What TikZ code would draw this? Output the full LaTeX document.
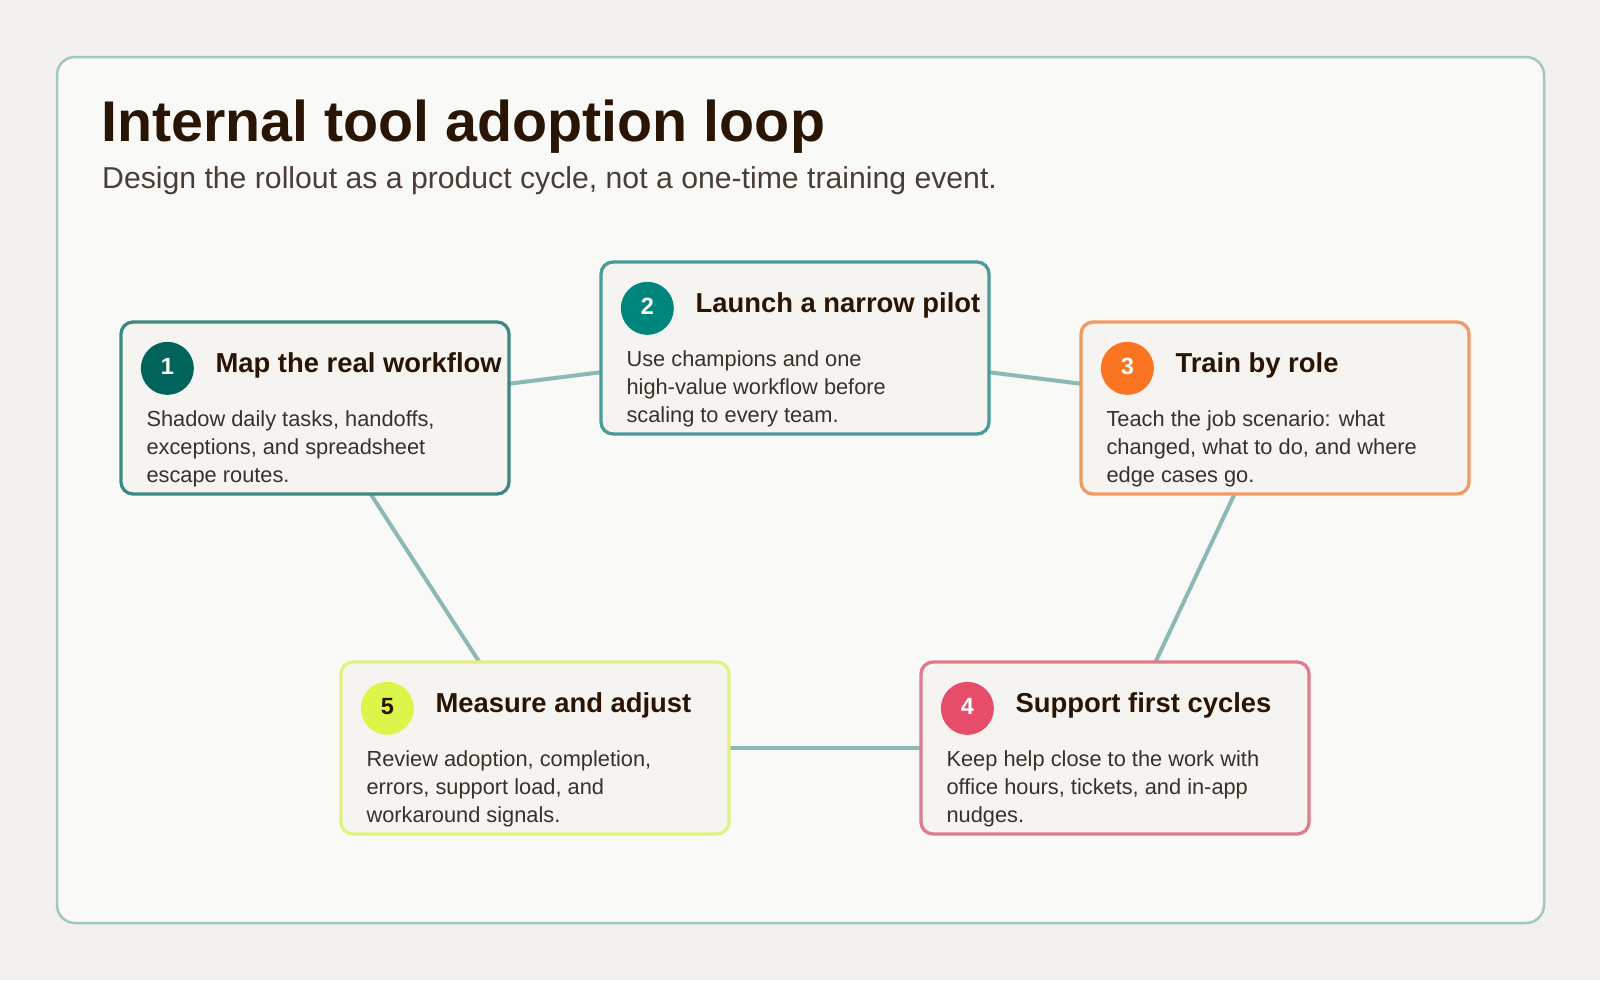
\documentclass[tikz,border=0pt]{standalone}
\usepackage{fontspec}
\setmainfont{Liberation Sans}
\usetikzlibrary{calc}
\definecolor{bgc}{HTML}{F2F1ED}
\definecolor{panelfill}{HTML}{F9F9F7}
\definecolor{panelline}{HTML}{A2C8C4}
\definecolor{boxfill}{HTML}{F6F4F0}
\definecolor{line1}{HTML}{3E8782}
\definecolor{dot1}{HTML}{00645C}
\definecolor{line2}{HTML}{4A9C98}
\definecolor{dot2}{HTML}{00877D}
\definecolor{line3}{HTML}{F29A62}
\definecolor{dot3}{HTML}{FA7421}
\definecolor{line4}{HTML}{E07A8D}
\definecolor{dot4}{HTML}{E54D6B}
\definecolor{line5}{HTML}{E3F27E}
\definecolor{dot5}{HTML}{DBF54B}
\definecolor{conn}{HTML}{8CB9B6}
\definecolor{titlec}{HTML}{2A1505}
\definecolor{subc}{HTML}{4A3E34}
\definecolor{bodyc}{HTML}{3A302A}
\pgfdeclarelayer{bg}
\pgfdeclarelayer{links}
\pgfsetlayers{bg,links,main}
\newcommand{\badgenum}[1]{\raisebox{3.5pt}{#1}}
\tikzset{
  stepbox/.style={rectangle, rounded corners=12pt, line width=3.3pt, fill=boxfill,
    minimum width=388pt, minimum height=172pt, inner sep=0pt},
  badge/.style={circle, minimum size=53pt, inner sep=0pt, text=white,
    font=\fontsize{23.5}{23.5}\selectfont\bfseries},
  steptitle/.style={anchor=base west, inner sep=0pt, text=titlec,
    font=\fontsize{27.4}{30}\selectfont\bfseries},
  stepbody/.style={anchor=base west, inner sep=0pt, text=bodyc,
    font=\fontsize{21.8}{28}\selectfont},
  link/.style={draw=conn, line width=4pt}
}
\begin{document}
\begin{tikzpicture}[x=1pt,y=-1pt]
\begin{pgfonlayer}{bg}
\fill[bgc] (0,0) rectangle (1600,980);
\draw[panelline, fill=panelfill, line width=2.5pt, rounded corners=18pt] (57,57) rectangle (1544,923);
\end{pgfonlayer}
\useasboundingbox (0,0) rectangle (1600,980);

\node[anchor=base west, inner sep=0pt, text=titlec, font=\fontsize{57.4}{60}\selectfont\bfseries] (title) at (101,141) {Internal tool adoption loop};
\node[anchor=base west, inner sep=0pt, text=subc, font=\fontsize{30.2}{33}\selectfont] (subtitle) at (102,188) {Design the rollout as a product cycle, not a one-time training event.};

% boxes
\node[stepbox, draw=line1] (b1) at (315,408) {};
\node[stepbox, draw=line2] (b2) at (795,348) {};
\node[stepbox, draw=line3] (b3) at (1275,408) {};
\node[stepbox, draw=line4] (b4) at (1115,748) {};
\node[stepbox, draw=line5] (b5) at (535,748) {};

% box 1
\node[badge, fill=dot1] (n1) at ($(b1.north west)+(48,48)$) {\badgenum{1}};
\node[steptitle] (t1) at ($(b1.north west)+(96,52.5)$) {Map the real workflow};
\node[stepbody] (d1a) at ($(b1.north west)+(27,106.5)$) {Shadow daily tasks, handoffs,};
\node[stepbody] (d1b) at ($(b1.north west)+(27,134.5)$) {exceptions, and spreadsheet};
\node[stepbody] (d1c) at ($(b1.north west)+(27,162.5)$) {escape routes.};

% box 2
\node[badge, fill=dot2] (n2) at ($(b2.north west)+(48,48)$) {\badgenum{2}};
\node[steptitle] (t2) at ($(b2.north west)+(96,52.5)$) {Launch a narrow pilot};
\node[stepbody] (d2a) at ($(b2.north west)+(27,106.5)$) {Use champions and one};
\node[stepbody] (d2b) at ($(b2.north west)+(27,134.5)$) {high-value workflow before};
\node[stepbody] (d2c) at ($(b2.north west)+(27,162.5)$) {scaling to every team.};

% box 3
\node[badge, fill=dot3] (n3) at ($(b3.north west)+(48,48)$) {\badgenum{3}};
\node[steptitle] (t3) at ($(b3.north west)+(96,52.5)$) {Train by role};
\node[stepbody] (d3a) at ($(b3.north west)+(27,106.5)$) {Teach the job scenario: what};
\node[stepbody] (d3b) at ($(b3.north west)+(27,134.5)$) {changed, what to do, and where};
\node[stepbody] (d3c) at ($(b3.north west)+(27,162.5)$) {edge cases go.};

% box 4
\node[badge, fill=dot4] (n4) at ($(b4.north west)+(48,48)$) {\badgenum{4}};
\node[steptitle] (t4) at ($(b4.north west)+(96,52.5)$) {Support first cycles};
\node[stepbody] (d4a) at ($(b4.north west)+(27,106.5)$) {Keep help close to the work with};
\node[stepbody] (d4b) at ($(b4.north west)+(27,134.5)$) {office hours, tickets, and in-app};
\node[stepbody] (d4c) at ($(b4.north west)+(27,162.5)$) {nudges.};

% box 5
\node[badge, fill=dot5, text=titlec] (n5) at ($(b5.north west)+(48,48)$) {\badgenum{5}};
\node[steptitle] (t5) at ($(b5.north west)+(96,52.5)$) {Measure and adjust};
\node[stepbody] (d5a) at ($(b5.north west)+(27,106.5)$) {Review adoption, completion,};
\node[stepbody] (d5b) at ($(b5.north west)+(27,134.5)$) {errors, support load, and};
\node[stepbody] (d5c) at ($(b5.north west)+(27,162.5)$) {workaround signals.};

\begin{pgfonlayer}{links}
\draw[link] (b1.center) -- (b2.center);
\draw[link] (b2.center) -- (b3.center);
\draw[link] (b3.center) -- (b4.center);
\draw[link] (b4.center) -- (b5.center);
\draw[link] (b5.center) -- (b1.center);
\end{pgfonlayer}
\end{tikzpicture}
\end{document}
